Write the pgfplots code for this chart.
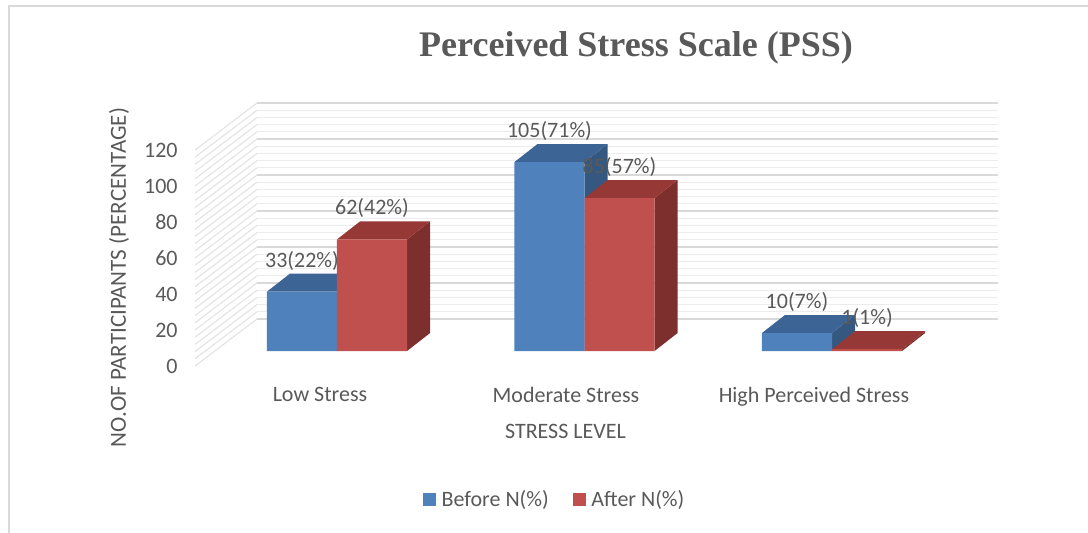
\documentclass[border=0pt]{standalone}
\usepackage{fontspec}
\setmainfont{Carlito}
\newfontfamily\titlefont{Liberation Serif}
\usepackage{pgfplots}
\pgfplotsset{compat=1.18}
\definecolor{txt}{HTML}{595959}
\definecolor{bfront}{HTML}{4F81BD}
\definecolor{btop}{HTML}{3C6494}
\definecolor{bside}{HTML}{355880}
\definecolor{rfront}{HTML}{C0504D}
\definecolor{rtop}{HTML}{963836}
\definecolor{rside}{HTML}{7D2F2D}
\definecolor{gmaj}{HTML}{D9D9D9}
\definecolor{gmin}{HTML}{ECECEC}
\definecolor{gleft}{HTML}{E2E2E2}
\begin{document}
\begin{tikzpicture}
\path[use as bounding box] (0,0) rectangle (816pt,399pt);
\draw[gmaj, line width=1.1pt] (6.75pt,-1pt) -- (6.75pt,394.5pt) -- (817pt,394.5pt);
\begin{axis}[
  at={(146.25pt,124.5pt)}, anchor=south west,
  scale only axis, width=602.25pt, height=197.25pt,
  xmin=-0.5737, xmax=2.6707, ymin=-8.33, ymax=137.8,
  clip=false,
  axis line style={draw=none}, tick style={draw=none}, major tick length=0pt,
  /pgf/number format/assume math mode=true,
  font=\fontsize{16.5}{19.8}\selectfont\color{txt},
  ytick={-8.33,11.67,31.67,51.67,71.67,91.67,111.67},
  yticklabels={0,20,40,60,80,100,120},
  yticklabel style={xshift=-9.5pt, text=txt},
  xtick={-0.0687,0.925,1.927},
  xticklabels={Low Stress,Moderate Stress,High Perceived Stress},
  xticklabel style={yshift=-12.75pt, text=txt},
  xlabel={STRESS LEVEL},
  xlabel style={at={(axis description cs:0.4614,-0.247)}, anchor=center, text=txt},
  ylabel={NO.OF PARTICIPANTS (PERCENTAGE)},
  ylabel style={at={(axis description cs:-0.0946,0.3365)}, anchor=center, text=txt, font=\fontsize{17.3}{20.5}\selectfont},
  title={Perceived Stress Scale (PSS)},
  title style={at={(axis description cs:0.5492,1.1806)}, anchor=center, font=\titlefont\bfseries\fontsize{27}{32}\selectfont, text=txt},
  legend columns=2,
  legend style={at={(axis description cs:0.4483,-0.5057)}, anchor=center, draw=none, fill=none,
    font=\fontsize{16.5}{19.8}\selectfont, text=txt,
    /tikz/every even column/.append style={column sep=16pt}},
]
% back and side wall gridlines
\pgfplotsinvokeforeach{0,4,...,120}{
  \draw[gmin, line width=0.8pt] (axis cs:-0.323,{17.8+#1}) -- (axis cs:2.6707,{17.8+#1});
  \draw[gleft, line width=0.8pt] (axis cs:-0.5737,{-8.33+#1}) -- (axis cs:-0.323,{17.8+#1});
}
\pgfplotsinvokeforeach{0,20,...,120}{
  \draw[gmaj, line width=1.2pt] (axis cs:-0.323,{17.8+#1}) -- (axis cs:2.6707,{17.8+#1});
}
% blue side faces
\addplot[fill=bside, draw=none, forget plot] coordinates {(0,0) (0.093,10) (0.093,43) (0,33)};
\addplot[fill=bside, draw=none, forget plot] coordinates {(1,0) (1.093,10) (1.093,115) (1,105)};
\addplot[fill=bside, draw=none, forget plot] coordinates {(2,0) (2.093,10) (2.093,20) (2,10)};
% blue top faces
\addplot[fill=btop, draw=none, forget plot] coordinates {(-0.283,33) (-0.19,43) (0.093,43) (0,33)};
\addplot[fill=btop, draw=none, forget plot] coordinates {(0.717,105) (0.81,115) (1.093,115) (1,105)};
\addplot[fill=btop, draw=none, forget plot] coordinates {(1.717,10) (1.81,20) (2.093,20) (2,10)};
% blue front
\addplot[ybar, bar width=0.283, bar shift=0pt, fill=bfront, draw=none,
  legend image code/.code={\path (0pt,0pt) -- (12pt,0pt);\fill[bfront] (0pt,-4.875pt) rectangle (9.75pt,4.875pt);},
  point meta=explicit symbolic, nodes near coords,
  every node near coord/.append style={anchor=center, yshift=23.25pt, text=txt, font=\fontsize{16.5}{19.8}\selectfont}]
  coordinates {(-0.1415,33) [33(22\%)] (0.8585,105) [105(71\%)] (1.8585,10) [10(7\%)]};
\addlegendentry{Before N(\%)}
% red side faces
\addplot[fill=rside, draw=none, forget plot] coordinates {(0.283,0) (0.376,10) (0.376,72) (0.283,62)};
\addplot[fill=rside, draw=none, forget plot] coordinates {(1.283,0) (1.376,10) (1.376,95) (1.283,85)};
\addplot[fill=rside, draw=none, forget plot] coordinates {(2.283,0) (2.376,10) (2.376,11) (2.283,1)};
% red top faces
\addplot[fill=rtop, draw=none, forget plot] coordinates {(0,62) (0.093,72) (0.376,72) (0.283,62)};
\addplot[fill=rtop, draw=none, forget plot] coordinates {(1,85) (1.093,95) (1.376,95) (1.283,85)};
\addplot[fill=rtop, draw=none, forget plot] coordinates {(2,1) (2.093,11) (2.376,11) (2.283,1)};
% red front
\addplot[ybar, bar width=0.283, bar shift=0pt, fill=rfront, draw=none,
  legend image code/.code={\path (0pt,0pt) -- (12pt,0pt);\fill[rfront] (0pt,-4.875pt) rectangle (9.75pt,4.875pt);},
  point meta=explicit symbolic, nodes near coords,
  every node near coord/.append style={anchor=center, yshift=23.25pt, text=txt, font=\fontsize{16.5}{19.8}\selectfont}]
  coordinates {(0.1415,62) [62(42\%)] (1.1415,85) [85(57\%)] (2.1415,1) [1(1\%)]};
\addlegendentry{After N(\%)}
\end{axis}
\end{tikzpicture}
\end{document}
